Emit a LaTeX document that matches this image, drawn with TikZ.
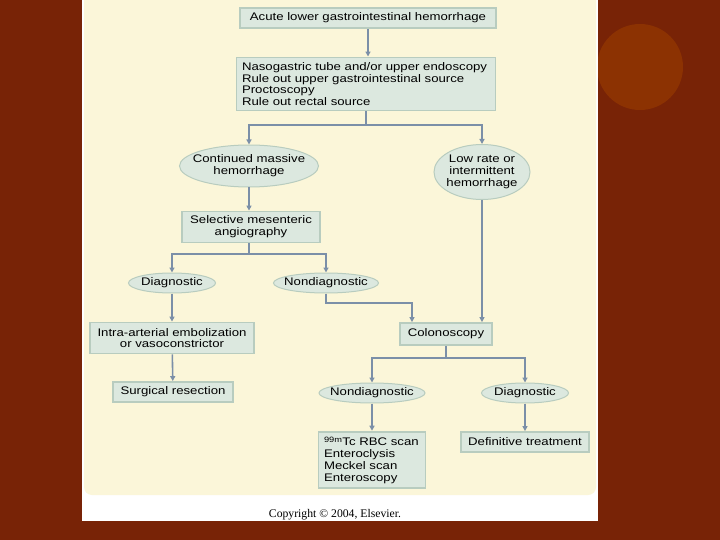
\documentclass[tikz,border=0pt]{standalone}
\usepackage{fontspec}
\setmainfont{Liberation Sans}[FakeStretch=1.2]
\newfontfamily\copyfont{Liberation Serif}
\usetikzlibrary{shapes.geometric,arrows.meta}
\definecolor{bgred}{HTML}{782306}
\definecolor{dotred}{HTML}{8C3202}
\definecolor{cream}{HTML}{FBF6D9}
\definecolor{boxfill}{HTML}{DCE8DF}
\definecolor{boxline}{HTML}{B8CCBF}
\definecolor{linec}{HTML}{7B8FA8}
\newcommand{\flowfont}{\fontsize{11}{11.7}\selectfont}

\begin{document}
\begin{tikzpicture}
[   x=1pt,y=-1pt,
    bnode/.style={draw=boxline,line width=1.8pt,fill=boxfill,font=\flowfont,
        inner sep=0pt,align=center,minimum width=#1},
    lnode/.style={draw=boxline,line width=1.8pt,fill=boxfill,font=\flowfont,
        inner xsep=5.5pt,inner ysep=5pt,align=left,text width=#1},
    enode/.style={ellipse,draw=boxline,line width=1pt,fill=boxfill,font=\flowfont,
        inner xsep=-14pt,inner ysep=0pt,align=center,minimum width=#1},
    wire/.style={draw=linec,line width=1.6pt},
    arr/.style={wire,-{Triangle[length=5pt,width=5pt]}},
]
    \useasboundingbox (0,0) rectangle (720,540);
    % slide and panel
    \fill[bgred] (0,0) rectangle (720,540);
    \fill[dotred] (640,67) circle (43);
    \fill[white] (82,0) rectangle (598,521);
    \fill[cream,rounded corners=8pt] (84,-10) rectangle (596,495);

    % boxes
    \node[bnode=256,minimum height=20] (acute) at (368,18)
        {Acute lower gastrointestinal hemorrhage};
    \node[lnode=248] (plan) at (366,84)
        {Nasogastric tube and/or upper endoscopy\\
         Rule out upper gastrointestinal source\\
         Proctoscopy\\
         Rule out rectal source};
    \node[enode=139,minimum height=42] (massive) at (249,166)
        {Continued massive\\hemorrhage};
    \node[enode=96,minimum height=55] (lowrate) at (482,172)
        {Low rate or\\intermittent\\hemorrhage};
    \node[bnode=138,minimum height=31] (angio) at (251,227)
        {Selective mesenteric\\angiography};
    \node[enode=87,minimum height=20] (diag-1) at (172,283) {Diagnostic};
    \node[enode=105,minimum height=20] (nondiag-1) at (326,283) {Nondiagnostic};
    \node[bnode=164,minimum height=31] (embol) at (172,338)
        {Intra-arterial embolization\\or vasoconstrictor};
    \node[bnode=120,minimum height=20] (surgery) at (173,392) {Surgical resection};
    \node[bnode=92,minimum height=22] (colon) at (446,334) {Colonoscopy};
    \node[enode=106,minimum height=20] (nondiag-2) at (372,393) {Nondiagnostic};
    \node[enode=87,minimum height=20] (diag-2) at (525,393) {Diagnostic};
    \node[lnode=96] (scans) at (372,460)
        {\textsuperscript{99m}Tc RBC scan\\
         Enteroclysis\\
         Meckel scan\\
         Enteroscopy};
    \node[bnode=128,minimum height=20] (treat) at (525,442) {Definitive treatment};

    \node[font=\copyfont\fontsize{11.7}{12}\selectfont] (copy) at (335,515)
        {Copyright \textcopyright{} 2004, Elsevier.};

    % connectors
    \coordinate (split-1) at (plan.south |- 0,125);
    \coordinate (split-2) at (249,254);
    \coordinate (split-3) at (446,358);
    \coordinate (bend) at (412,303);
    \draw[arr] (acute.south) -- (acute.south |- plan.north);
    \draw[wire] (plan.south) -- (split-1);
    \foreach \n in {massive,lowrate}
    {   \draw[arr] (split-1) -| (\n.north);
    }
    \draw[arr] (massive.south) -- (massive.south |- angio.north);
    \draw[wire] (split-2 |- angio.south) -- (split-2);
    \foreach \n in {diag-1,nondiag-1}
    {   \draw[arr] (split-2) -| (\n.north);
    }
    \draw[arr] (diag-1) -- (embol);
    \draw[arr] (embol) -- (surgery);
    \draw[arr] (nondiag-1.south) |- (bend) -- (bend |- colon.north);
    \draw[arr] (lowrate.south) -- (lowrate.south |- colon.north);
    \draw[wire] (colon.south) -- (split-3);
    \foreach \n in {nondiag-2,diag-2}
    {   \draw[arr] (split-3) -| (\n.north);
    }
    \draw[arr] (nondiag-2) -- (scans);
    \draw[arr] (diag-2) -- (treat);
\end{tikzpicture}
\end{document}
